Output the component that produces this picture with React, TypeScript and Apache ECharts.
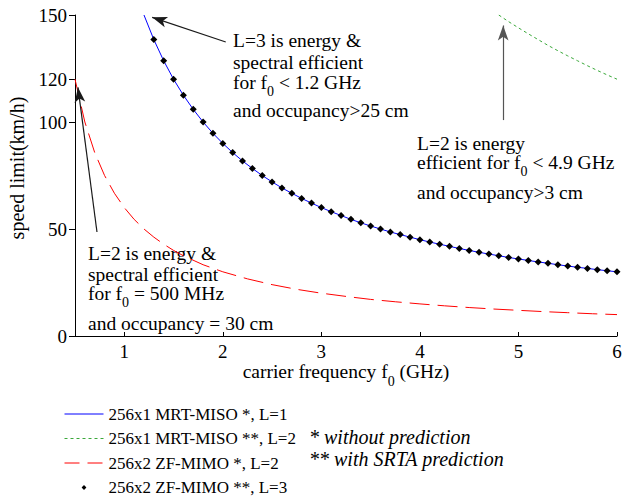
import React, { useEffect, useRef } from 'react';
import * as echarts from 'echarts';

const xTicks = [1, 2, 3, 4, 5, 6];
const yTicks = [0, 50, 100, 120, 150];

const seriesNames = [
  '256x1 MRT-MISO *, L=1',
  '256x1 MRT-MISO **, L=2',
  '256x2 ZF-MIMO *, L=2',
  '256x2 ZF-MIMO **, L=3',
];

// 256x1 MRT-MISO *, L=1 (blue solid)
const misoL1Freq = [1.2, 1.3, 1.4, 1.5, 1.6, 1.7, 1.8, 1.9, 2.0, 2.1, 2.2, 2.3, 2.4, 2.5, 2.6, 2.7, 2.8, 2.9, 3.0, 3.1, 3.2, 3.3, 3.4, 3.5, 3.6, 3.7, 3.8, 3.9, 4.0, 4.1, 4.2, 4.3, 4.4, 4.5, 4.6, 4.7, 4.8, 4.9, 5.0, 5.1, 5.2, 5.3, 5.4, 5.5, 5.6, 5.7, 5.8, 5.9, 6.0];
const misoL1Speed = [150, 138.5, 128.6, 120, 112.5, 105.9, 100, 94.7, 90, 85.7, 81.8, 78.3, 75, 72, 69.2, 66.7, 64.3, 62.1, 60, 58.1, 56.3, 54.5, 52.9, 51.4, 50, 48.6, 47.4, 46.2, 45, 43.9, 42.9, 41.9, 40.9, 40, 39.1, 38.3, 37.5, 36.7, 36, 35.3, 34.6, 34, 33.3, 32.7, 32.1, 31.6, 31, 30.5, 30];

// 256x1 MRT-MISO **, L=2 (green dotted)
const misoL2Freq = [4.8, 4.9, 5.0, 5.1, 5.2, 5.3, 5.4, 5.5, 5.6, 5.7, 5.8, 5.9, 6.0];
const misoL2Speed = [150, 146.9, 144, 141.2, 138.5, 135.8, 133.3, 130.9, 128.6, 126.3, 124.1, 122, 120];

// 256x2 ZF-MIMO *, L=2 (red dashed)
const mimoL2Freq = [0.5, 0.6, 0.7, 0.8, 0.9, 1.0, 1.1, 1.2, 1.3, 1.4, 1.5, 1.6, 1.8, 2.0, 2.25, 2.5, 2.75, 3.0, 3.25, 3.5, 3.75, 4.0, 4.25, 4.5, 4.75, 5.0, 5.25, 5.5, 5.75, 6.0];
const mimoL2Speed = [120, 100, 85.7, 75, 66.7, 60, 54.5, 50, 46.2, 42.9, 40, 37.5, 33.3, 30, 26.7, 24, 21.8, 20, 18.5, 17.1, 16, 15, 14.1, 13.3, 12.6, 12, 11.4, 10.9, 10.4, 10];

// 256x2 ZF-MIMO **, L=3 (black diamonds)
const mimoL3Freq = [1.3, 1.4, 1.5, 1.6, 1.7, 1.8, 1.9, 2.0, 2.1, 2.2, 2.3, 2.4, 2.5, 2.6, 2.7, 2.8, 2.9, 3.0, 3.1, 3.2, 3.3, 3.4, 3.5, 3.6, 3.7, 3.8, 3.9, 4.0, 4.1, 4.2, 4.3, 4.4, 4.5, 4.6, 4.7, 4.8, 4.9, 5.0, 5.1, 5.2, 5.3, 5.4, 5.5, 5.6, 5.7, 5.8, 5.9, 6.0];
const mimoL3Speed = [138.5, 128.6, 120, 112.5, 105.9, 100, 94.7, 90, 85.7, 81.8, 78.3, 75, 72, 69.2, 66.7, 64.3, 62.1, 60, 58.1, 56.3, 54.5, 52.9, 51.4, 50, 48.6, 47.4, 46.2, 45, 43.9, 42.9, 41.9, 40.9, 40, 39.1, 38.3, 37.5, 36.7, 36, 35.3, 34.6, 34, 33.3, 32.7, 32.1, 31.6, 31, 30.5, 30];

// annotation arrows: [fromFreq, fromSpeed, arrowHeadFreq, arrowHeadSpeed]
const arrowL3 = [2.03, 137.4, 1.283, 148.9];
const arrowL2Miso = [4.845, 100.9, 4.845, 145.1];
const arrowL2Mimo = [0.723, 48.6, 0.53, 116.2];

const FONT = 'Liberation Serif, serif';

const zip = (xs: number[], ys: number[]) => xs.map((x, i) => [x, ys[i]]);

const ANN = 19.5;
const richBase = {
  a: { fontFamily: FONT, fontSize: ANN, fill: '#000', color: '#000' },
  s: { fontFamily: FONT, fontSize: 14, fill: '#000', color: '#000', padding: [19, 0, 0, 0] },
};

function annLine(x: number, y: number, text: string) {
  return {
    type: 'text',
    x,
    y,
    silent: true,
    style: {
      text,
      rich: richBase,
      fill: '#000',
      fontFamily: FONT,
      fontSize: ANN,
      verticalAlign: 'middle',
      align: 'left',
    },
  };
}

export default function App() {
  const ref = useRef<HTMLDivElement>(null);
  useEffect(() => {
    if (!ref.current) return;
    document.body.style.margin = '0';
    const chart = echarts.init(ref.current, null, { renderer: 'svg' });
    const arrowLine = (a: number[], color: string) => [
      { coord: [a[0], a[1]], lineStyle: { color, width: 1.2, type: 'solid' }, itemStyle: { color } },
      { coord: [a[2], a[3]] },
    ];
    chart.setOption({
      animation: false,
      backgroundColor: '#fff',
      grid: { left: 75, right: 10, top: 15, bottom: 163, outerBoundsMode: 'none' },
      xAxis: {
        type: 'value',
        min: 0.5,
        max: 6,
        name: '{a|carrier frequency f}{s|0}{a| (GHz)}',
        nameLocation: 'middle',
        nameGap: 25.5,
        nameMoveOverlap: false,
        nameTextStyle: {
          color: '#000',
          fontFamily: FONT,
          fontSize: 19.5,
          rich: {
            a: { fontFamily: FONT, fontSize: 19.5, color: '#000', lineHeight: 20, verticalAlign: 'top' },
            s: { fontFamily: FONT, fontSize: 14, color: '#000', padding: [13, 0, 0, 0] },
          },
        },
        axisLine: { show: true, onZero: false, lineStyle: { color: '#000', width: 1 } },
        axisTick: { show: true, inside: true, length: 4, customValues: xTicks, lineStyle: { color: '#000' } },
        axisLabel: {
          customValues: xTicks,
          showMaxLabel: true,
          showMinLabel: true,
          color: '#000',
          fontFamily: FONT,
          fontSize: 19,
          margin: 6,
        },
        splitLine: { show: false },
      },
      yAxis: {
        type: 'value',
        min: 0,
        max: 150,
        name: 'speed limit(km/h)',
        nameLocation: 'middle',
        nameGap: 48,
        nameMoveOverlap: false,
        nameTextStyle: { color: '#000', fontFamily: FONT, fontSize: 20, padding: [0, 0, 0, 15] },
        axisLine: { show: true, onZero: false, lineStyle: { color: '#000', width: 1 } },
        axisTick: { show: true, inside: false, length: 6, customValues: yTicks, lineStyle: { color: '#000' } },
        axisLabel: { customValues: yTicks, showMaxLabel: true, color: '#000', fontFamily: FONT, fontSize: 19, margin: 8 },
        splitLine: { show: false },
      },
      legend: {
        orient: 'vertical',
        left: 64,
        top: 405,
        padding: 0,
        itemWidth: 39,
        itemHeight: 6,
        itemGap: 6.5,
        selectedMode: false,
        textStyle: { fontFamily: FONT, fontSize: 17, color: '#000', lineHeight: 18 },
        lineStyle: { width: 1 },
        data: [
          { name: seriesNames[0], itemStyle: { opacity: 0 } },
          { name: seriesNames[1], itemStyle: { opacity: 0 } },
          { name: seriesNames[2], itemStyle: { opacity: 0 }, lineStyle: { type: [15, 8] } },
          { name: seriesNames[3], lineStyle: { opacity: 0, color: 'rgba(0,0,0,0)' } },
        ],
      },
      series: [
        {
          name: seriesNames[0],
          type: 'line',
          data: zip(misoL1Freq, misoL1Speed),
          symbol: 'none',
          color: '#0000ff',
          lineStyle: { color: '#0000ff', width: 1 },
          z: 2,
          markLine: {
            silent: true,
            symbol: ['none', 'arrow'],
            symbolSize: [8, 15],
            label: { show: false },
            emphasis: { disabled: true },
            data: [
              arrowLine(arrowL3, '#1a1a1a'),
              arrowLine(arrowL2Miso, '#555555'),
              arrowLine(arrowL2Mimo, '#1a1a1a'),
            ],
          },
        },
        {
          name: seriesNames[1],
          type: 'line',
          data: zip(misoL2Freq, misoL2Speed),
          symbol: 'none',
          color: '#3aa83a',
          lineStyle: { color: '#3aa83a', width: 1, type: [3, 3] },
        },
        {
          name: seriesNames[2],
          type: 'line',
          data: zip(mimoL2Freq, mimoL2Speed),
          symbol: 'none',
          color: '#ff0000',
          lineStyle: { color: '#ff0000', width: 1, type: [20, 8] },
        },
        {
          name: seriesNames[3],
          type: 'line',
          data: zip(mimoL3Freq, mimoL3Speed),
          symbol: 'diamond',
          symbolSize: 7,
          showSymbol: true,
          showAllSymbol: true,
          color: '#000',
          itemStyle: { color: '#000' },
          lineStyle: { opacity: 0, width: 0 },
          z: 3,
        },
      ],
      graphic: [
        annLine(233, 40, '{a|L=3 is energy &}'),
        annLine(233, 62, '{a|spectral efficient}'),
        annLine(233, 82, '{a|for f}{s|0}{a| < 1.2 GHz}'),
        annLine(233, 110, '{a|and occupancy>25 cm}'),
        annLine(417, 143, '{a|L=2 is energy}'),
        annLine(417, 162, '{a|efficient for f}{s|0}{a| < 4.9 GHz}'),
        annLine(417, 192, '{a|and occupancy>3 cm}'),
        annLine(88, 253, '{a|L=2 is energy &}'),
        annLine(88, 274, '{a|spectral efficient}'),
        annLine(88, 293, '{a|for f}{s|0}{a| = 500 MHz}'),
        annLine(88, 323, '{a|and occupancy = 30 cm}'),
        {
          type: 'text',
          x: 309,
          y: 437,
          silent: true,
          style: { text: '* without prediction', fontFamily: FONT, fontSize: 20, fontStyle: 'italic', fill: '#000', verticalAlign: 'middle' },
        },
        {
          type: 'text',
          x: 309,
          y: 459,
          silent: true,
          style: { text: '** with SRTA prediction', fontFamily: FONT, fontSize: 20, fontStyle: 'italic', fill: '#000', verticalAlign: 'middle' },
        },
      ],
    });
    return () => chart.dispose();
  }, []);
  return <div ref={ref} style={{ width: 627, height: 499 }} />;
}
